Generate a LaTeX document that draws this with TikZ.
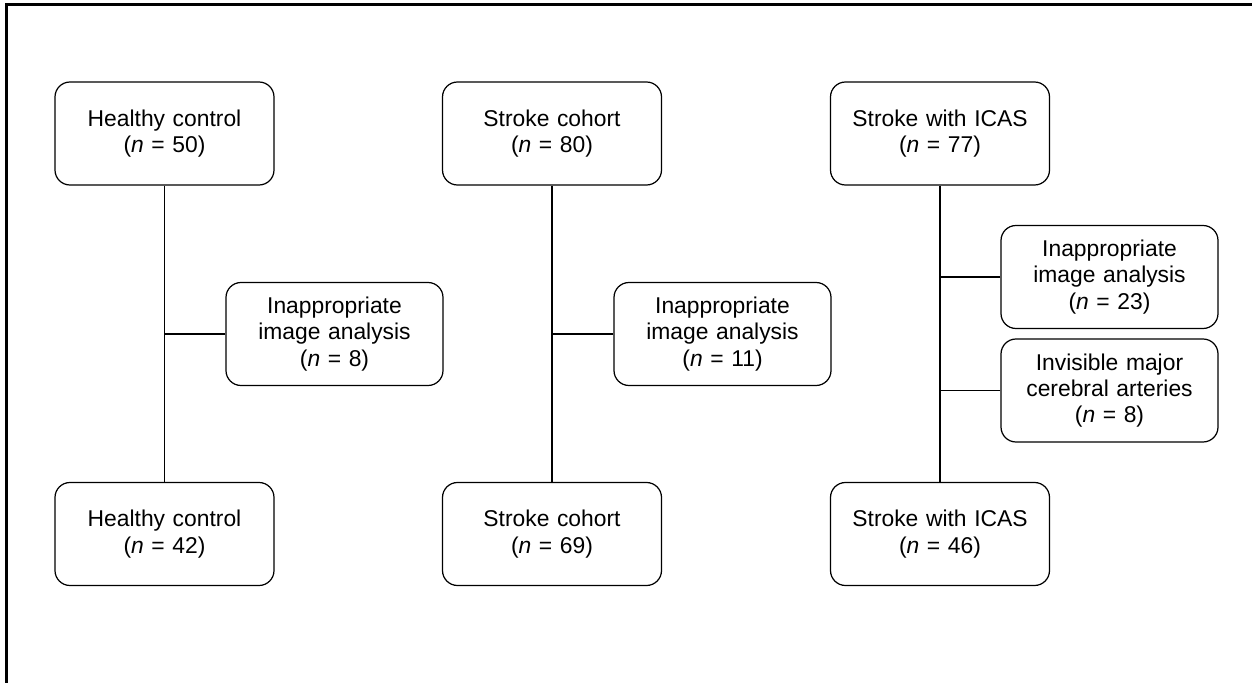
\documentclass[tikz,border=0pt]{standalone}
\usepackage{fontspec}
\setmainfont{Liberation Sans}
\usepackage{tikz}
\usetikzlibrary{positioning}

\begin{document}
\begin{tikzpicture}[
  box/.style={draw, rounded corners=0.3cm, line width=0.7pt, minimum width=4.38cm, minimum height=2.06cm, text width=4.1cm, inner sep=2pt, align=center, font=\fontsize{13}{15}\selectfont},
  sidebox/.style={box, minimum width=4.34cm},
  link/.style={line width=0.6pt},
  frame/.style={line width=1.2pt}
]
\useasboundingbox (0,0) rectangle (25.06,-13.66);
\draw[frame] (0.13,-13.66) -- (0.13,-0.09) -- (25.04,-0.09);

% healthy controls
\node[box] (hctop) at (3.29,-2.67) {Healthy control\\(\textit{n} = 50)};
\node[sidebox] (hcex) at (6.69,-6.68) {Inappropriate\\image analysis\\(\textit{n} = 8)};
\node[box] (hcbot) at (3.29,-10.68) {Healthy control\\(\textit{n} = 42)};

% stroke cohort
\node[box] (sctop) at (11.04,-2.67) {Stroke cohort\\(\textit{n} = 80)};
\node[sidebox] (scex) at (14.45,-6.68) {Inappropriate\\image analysis\\(\textit{n} = 11)};
\node[box] (scbot) at (11.04,-10.68) {Stroke cohort\\(\textit{n} = 69)};

% stroke with ICAS
\node[box] (ictop) at (18.80,-2.67) {Stroke with ICAS\\(\textit{n} = 77)};
\node[sidebox] (icexa) at (22.19,-5.54) {Inappropriate\\image analysis\\(\textit{n} = 23)};
\node[sidebox] (icexb) at (22.19,-7.81) {Invisible major\\cerebral arteries\\(\textit{n} = 8)};
\node[box] (icbot) at (18.80,-10.68) {Stroke with ICAS\\(\textit{n} = 46)};

\draw[link] (hctop) -- (hcbot);
\draw[link] (hcex.west) -- (hcex.west -| hctop);
\draw[link] (sctop) -- (scbot);
\draw[link] (scex.west) -- (scex.west -| sctop);
\draw[link] (ictop) -- (icbot);
\draw[link] (icexa.west) -- (icexa.west -| ictop);
\draw[link] (icexb.west) -- (icexb.west -| ictop);
\end{tikzpicture}
\end{document}
